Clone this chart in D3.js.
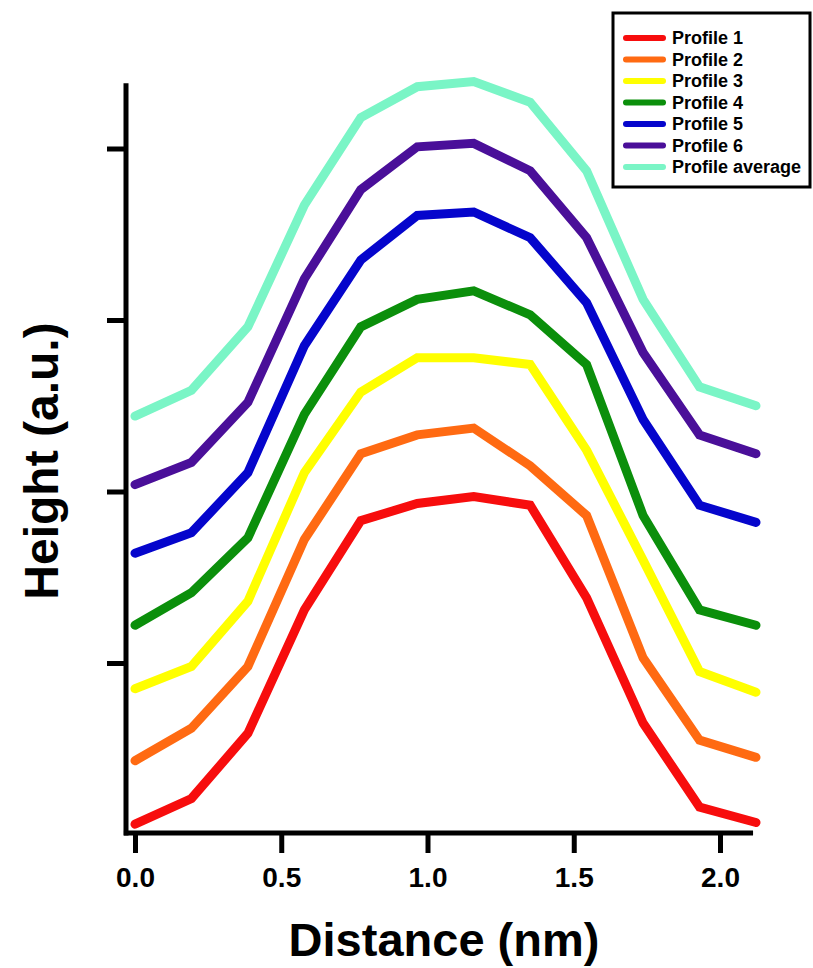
<!DOCTYPE html>
<html>
<head>
<meta charset="utf-8">
<script src="https://cdnjs.cloudflare.com/ajax/libs/d3/7.8.5/d3.min.js"></script>
<style>
  html, body { margin: 0; padding: 0; background: #ffffff; }
  svg { display: block; }
  text { font-family: "Liberation Sans", Arial, Helvetica, sans-serif; font-weight: bold; fill: #000; }
</style>
</head>
<body>
<script>
// ---- data ----
const distance = [0, 0.193, 0.386, 0.579, 0.772, 0.965, 1.158, 1.351, 1.544, 1.737, 1.930, 2.123];
const seriesNames = ["Profile 1", "Profile 2", "Profile 3", "Profile 4", "Profile 5", "Profile 6", "Profile average"];
const profile1 = [0.06, 0.21, 0.59, 1.31, 1.83, 1.93, 1.97, 1.92, 1.38, 0.65, 0.16, 0.07];
const profile2 = [0.43, 0.62, 0.98, 1.72, 2.22, 2.33, 2.37, 2.15, 1.86, 1.03, 0.55, 0.45];
const profile3 = [0.85, 0.98, 1.36, 2.11, 2.58, 2.78, 2.78, 2.74, 2.24, 1.60, 0.95, 0.83];
const profile4 = [1.22, 1.41, 1.73, 2.45, 2.96, 3.12, 3.17, 3.03, 2.74, 1.86, 1.31, 1.22];
const profile5 = [1.64, 1.76, 2.11, 2.85, 3.35, 3.61, 3.63, 3.48, 3.10, 2.42, 1.92, 1.82];
const profile6 = [2.04, 2.17, 2.52, 3.24, 3.76, 4.01, 4.03, 3.87, 3.48, 2.81, 2.33, 2.22];
const profileAvg = [2.44, 2.59, 2.96, 3.67, 4.18, 4.36, 4.39, 4.27, 3.87, 3.12, 2.61, 2.50];
const seriesColors = ["#f70d0d", "#ff6a12", "#ffff00", "#0b8f0b", "#0505cc", "#4a0f99", "#7af5c6"];
const xTicks = [0, 0.5, 1.0, 1.5, 2.0];
const xTickLabels = ["0.0", "0.5", "1.0", "1.5", "2.0"];
const yTicks = [1, 2, 3, 4];
const xTitle = "Distance (nm)";
const yTitle = "Height (a.u.)";

const allSeries = [profile1, profile2, profile3, profile4, profile5, profile6, profileAvg];

// ---- layout ----
const W = 813, H = 968;
const svg = d3.select("body").append("svg").attr("width", W).attr("height", H);

const x = d3.scaleLinear().domain([0, 2]).range([135, 720]);
const y = d3.scaleLinear().domain([0, 4]).range([834.5, 148.5]);

const xAxisStart = -0.038, xAxisEnd = 2.113;
const yAxisTop = 4.38;
const xAxisY = 833, yAxisX = 126;

// series lines
const line = d3.line().x((d, i) => x(distance[i])).y(d => y(d)).curve(d3.curveLinear);
svg.append("g").selectAll("path").data(allSeries).join("path")
  .attr("d", d => line(d))
  .attr("fill", "none")
  .attr("stroke", (d, i) => seriesColors[i])
  .attr("stroke-width", 9)
  .attr("stroke-linecap", "round")
  .attr("stroke-linejoin", "miter");

// x axis
const xAxis = d3.axisBottom(x).tickValues(xTicks).tickFormat((d, i) => xTickLabels[i])
  .tickSizeInner(20).tickSizeOuter(0).tickPadding(14);
const gx = svg.append("g").attr("transform", `translate(0,${xAxisY})`).call(xAxis);
gx.select(".domain").remove();
gx.selectAll(".tick line").attr("stroke", "#000").attr("stroke-width", 5);
gx.selectAll(".tick text").style("font-size", "28px").style("font-family", "Liberation Sans, Arial, sans-serif").style("font-weight", "bold").attr("fill", "#000");
svg.append("line").attr("x1", x(xAxisStart)).attr("x2", x(xAxisEnd)).attr("y1", xAxisY).attr("y2", xAxisY)
  .attr("stroke", "#000").attr("stroke-width", 5);

// y axis
const yAxis = d3.axisLeft(y).tickValues(yTicks).tickFormat("").tickSizeInner(19).tickSizeOuter(0);
const gy = svg.append("g").attr("transform", `translate(${yAxisX},0)`).call(yAxis);
gy.select(".domain").remove();
gy.selectAll(".tick line").attr("stroke", "#000").attr("stroke-width", 5);
svg.append("line").attr("x1", yAxisX).attr("x2", yAxisX).attr("y1", y(yAxisTop)).attr("y2", xAxisY + 2.5)
  .attr("stroke", "#000").attr("stroke-width", 5);

// axis titles
svg.append("text").attr("x", 444).attr("y", 956).attr("text-anchor", "middle")
  .style("font-size", "47px").text(xTitle);
svg.append("text").attr("transform", "translate(58,461) rotate(-90)").attr("text-anchor", "middle")
  .style("font-size", "48px").text(yTitle);

// legend
const lg = svg.append("g");
lg.append("rect").attr("x", 613).attr("y", 13).attr("width", 197).attr("height", 174)
  .attr("fill", "#fff").attr("stroke", "#000").attr("stroke-width", 3);
const rows = lg.selectAll("g.row").data(seriesNames).join("g").attr("class", "row")
  .attr("transform", (d, i) => `translate(0,${38 + i * 21.5})`);
rows.append("line").attr("x1", 626).attr("x2", 663).attr("y1", 0).attr("y2", 0)
  .attr("stroke", (d, i) => seriesColors[i]).attr("stroke-width", 6).attr("stroke-linecap", "round");
rows.append("text").attr("x", 672).attr("y", 6).style("font-size", "18px").text(d => d);
</script>
</body>
</html>
